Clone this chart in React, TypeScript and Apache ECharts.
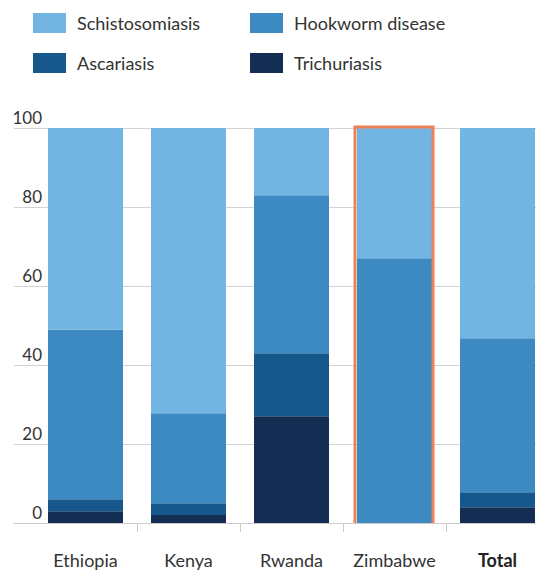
import React, { useEffect, useRef } from "react";
import * as echarts from "echarts";

const categories = ["Ethiopia", "Kenya", "Rwanda", "Zimbabwe", "Total"];
const trichuriasis = [3, 2, 27, 0, 4];
const ascariasis = [3, 3, 16, 0, 3.8];
const hookworm = [43, 22.8, 40, 67, 39];
const schistosomiasis = [51, 72.2, 17, 33, 53.2];
const highlightIndex = [3];
const yTicks = [0, 20, 40, 60, 80, 100];

const FONT = "Lato";
const TEXT = "#333333";
const CHART_W = 560;

export default function App() {
  const ref = useRef<HTMLDivElement>(null);
  useEffect(() => {
    if (!ref.current) return;
    const chart = echarts.init(ref.current, null, { renderer: "svg" });
    const bar = (name: string, data: any[], color: string) => ({
      name,
      type: "bar",
      stack: "all",
      data,
      barWidth: 75,
      xAxisIndex: 0,
      yAxisIndex: 0,
      itemStyle: { color },
      emphasis: { disabled: true },
    });
    const legendBase = {
      orient: "vertical",
      top: 8,
      itemWidth: 33,
      itemHeight: 20,
      itemGap: 20,
      icon: "rect",
      selectedMode: false,
      textStyle: { fontFamily: FONT, fontSize: 18, color: TEXT, padding: [0, 0, 0, 6] },
    };
    chart.setOption({
      animation: false,
      textStyle: { fontFamily: FONT },
      legend: [
        { ...legendBase, data: ["Schistosomiasis", "Ascariasis"], left: 28 },
        { ...legendBase, data: ["Hookworm disease", "Trichuriasis"], left: 245 },
      ],
      grid: [
        { left: 34, width: 515, top: 128, bottom: 47 },
        { left: 14, width: 522, top: 128, bottom: 47 },
      ],
      xAxis: [
        {
          type: "category",
          gridIndex: 0,
          data: categories,
          axisLine: { show: false },
          axisTick: {
            show: true,
            length: 9,
            interval: (i: number) => i !== 0,
            lineStyle: { color: "#cccccc", width: 1 },
          },
          axisLabel: {
            interval: 0,
            hideOverlap: false,
            fontFamily: FONT,
            fontSize: 18,
            color: TEXT,
            margin: 28,
            formatter: (v: string) => (v === "Total" ? `{b|${v}}` : v),
            rich: { b: { fontFamily: FONT, fontSize: 18, fontWeight: "bold", color: "#222" } },
          },
        },
        {
          type: "value",
          gridIndex: 1,
          min: 0,
          max: 1,
          axisLine: { show: true, onZero: false, lineStyle: { color: "#cccccc", width: 1 } },
          axisTick: { show: false },
          axisLabel: { show: false },
          splitLine: { show: false },
        },
      ],
      yAxis: [
        {
          type: "value",
          gridIndex: 0,
          min: 0,
          max: 100,
          show: false,
          splitLine: { show: false },
        },
        {
          type: "value",
          gridIndex: 1,
          min: yTicks[0],
          max: yTicks[yTicks.length - 1],
          interval: 20,
          axisLine: { show: false },
          axisTick: { show: false },
          splitLine: { show: true, lineStyle: { color: "#d3d3d3", width: 1 } },
          axisLabel: {
            inside: true,
            align: "right",
            verticalAlign: "bottom",
            margin: 28,
            padding: [0, 0, 2, 0],
            fontFamily: FONT,
            fontSize: 17,
            color: TEXT,
          },
        },
      ],
      series: [
        bar("Trichuriasis", trichuriasis, "#132E52"),
        bar("Ascariasis", ascariasis, "#16588C"),
        bar("Hookworm disease", hookworm, "#3D89C2"),
        bar("Schistosomiasis", schistosomiasis, "#72B4E2"),
        {
          name: "highlight",
          type: "custom",
          xAxisIndex: 0,
          yAxisIndex: 0,
          z: 5,
          data: highlightIndex.map((i) => [i, 100]),
          renderItem: (params: any, api: any) => {
            const idx = api.value(0);
            const top = api.coord([idx, api.value(1)]);
            const bottom = api.coord([idx, 0]);
            const half = 75 / 2;
            const x0 = top[0] - half - 2;
            const x1 = top[0] + half + 1;
            const yT = top[1] - 1;
            return {
              type: "polyline",
              shape: {
                points: [
                  [x0, bottom[1]],
                  [x0, yT],
                  [x1, yT],
                  [x1, bottom[1]],
                ],
              },
              style: { fill: "none", stroke: "#EC8358", lineWidth: 3 },
            };
          },
        },
      ],
    });
    return () => chart.dispose();
  }, []);
  return (
    <div
      style={{
        position: "absolute",
        left: 0,
        top: 0,
        width: 543,
        height: 570,
        overflow: "hidden",
      }}
    >
      <div ref={ref} style={{ width: CHART_W, height: 570 }} />
    </div>
  );
}
